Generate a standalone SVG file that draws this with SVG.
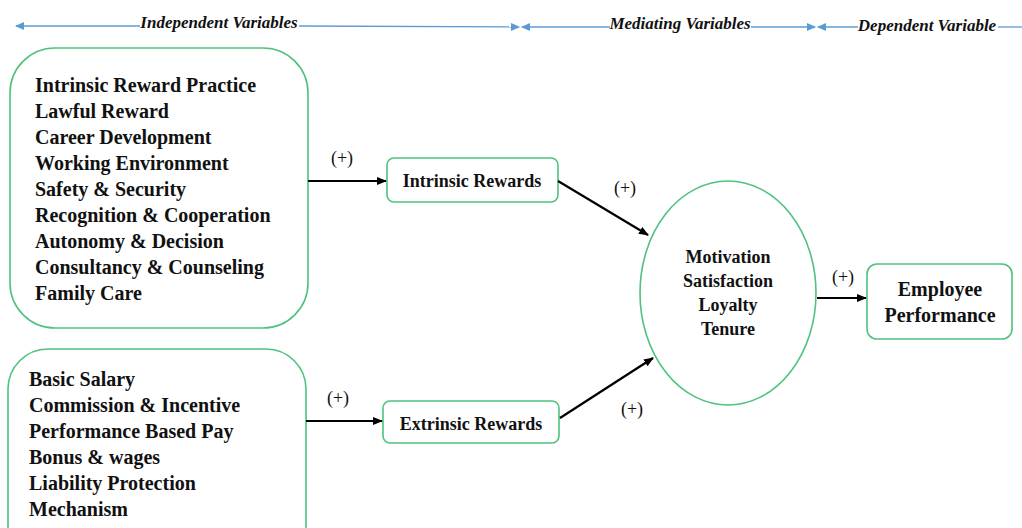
<svg xmlns="http://www.w3.org/2000/svg" width="1022" height="528" viewBox="0 0 1022 528">
<style>
.node{fill:#fff;stroke:#4fc27e;stroke-width:1.6}
.t{font-family:"Liberation Serif",serif;font-weight:bold;font-size:20px;fill:#111}
.tc{font-family:"Liberation Serif",serif;font-weight:bold;font-size:18px;fill:#111;text-anchor:middle}
.tl{font-size:20px}
.p{font-family:"Liberation Serif",serif;font-size:18px;fill:#111;text-anchor:middle}
.h{font-family:"Liberation Serif",serif;font-style:italic;font-weight:bold;font-size:17px;fill:#111;text-anchor:middle}
.blue{stroke:#5b9bd5;stroke-width:1.3;fill:none}
.conn{stroke:#000;stroke-width:2.2;fill:none;marker-end:url(#ah)}
</style>
<defs>
<marker id="ah" markerWidth="10" markerHeight="8" refX="9" refY="4" orient="auto" markerUnits="userSpaceOnUse"><path d="M0,0 L10,4 L0,8 Z" fill="#000"/></marker>
<marker id="bh" markerWidth="9" markerHeight="8" refX="8" refY="4" orient="auto-start-reverse" markerUnits="userSpaceOnUse"><path d="M0,0 L9,4 L0,8 Z" fill="#5b9bd5"/></marker>
</defs>
<rect width="1022" height="528" fill="#fff"/>
<g id="header">
<line class="blue" x1="16" y1="26" x2="140" y2="26" marker-start="url(#bh)"/>
<line class="blue" x1="299" y1="26" x2="519" y2="27" marker-end="url(#bh)"/>
<text class="h" x="219" y="28">Independent Variables</text>
<line class="blue" x1="522" y1="27" x2="610" y2="27" marker-start="url(#bh)"/>
<line class="blue" x1="751" y1="27" x2="815" y2="27" marker-end="url(#bh)"/>
<text class="h" x="680" y="29">Mediating Variables</text>
<line class="blue" x1="818" y1="27" x2="858" y2="27" marker-start="url(#bh)"/>
<line class="blue" x1="998" y1="27" x2="1022" y2="27"/>
<text class="h" x="927" y="31">Dependent Variable</text>
</g>
<g id="intrinsic-factors">
<rect class="node" x="10" y="48" width="298" height="280" rx="45"/>
<text class="t" x="35" y="92">Intrinsic Reward Practice</text>
<text class="t" x="35" y="118">Lawful Reward</text>
<text class="t" x="35" y="144">Career Development</text>
<text class="t" x="35" y="170">Working Environment</text>
<text class="t" x="35" y="196">Safety &amp; Security</text>
<text class="t" x="35" y="222">Recognition &amp; Cooperation</text>
<text class="t" x="35" y="248">Autonomy &amp; Decision</text>
<text class="t" x="35" y="274">Consultancy &amp; Counseling</text>
<text class="t" x="35" y="300">Family Care</text>
</g>
<g id="extrinsic-factors">
<rect class="node" x="8" y="349" width="298" height="220" rx="40"/>
<text class="t" x="29" y="386">Basic Salary</text>
<text class="t" x="29" y="412">Commission &amp; Incentive</text>
<text class="t" x="29" y="438">Performance Based Pay</text>
<text class="t" x="29" y="464">Bonus &amp; wages</text>
<text class="t" x="29" y="490">Liability Protection</text>
<text class="t" x="29" y="516">Mechanism</text>
</g>
<g id="intrinsic-rewards">
<rect class="node" x="387" y="158" width="171" height="44" rx="7"/>
<text class="tc" x="472" y="187">Intrinsic Rewards</text>
</g>
<g id="extrinsic-rewards">
<rect class="node" x="383" y="401" width="176" height="42" rx="7"/>
<text class="tc" x="471" y="430">Extrinsic Rewards</text>
</g>
<g id="mediators">
<ellipse class="node" cx="728" cy="293" rx="88" ry="112"/>
<text class="tc" x="728" y="263">Motivation</text>
<text class="tc" x="728" y="287">Satisfaction</text>
<text class="tc" x="728" y="311">Loyalty</text>
<text class="tc" x="728" y="335">Tenure</text>
</g>
<g id="employee-performance">
<rect class="node" x="867" y="264" width="145" height="75" rx="10"/>
<text class="tc tl" x="940" y="296">Employee</text>
<text class="tc tl" x="940" y="322">Performance</text>
</g>
<g id="connectors">
<line class="conn" x1="308" y1="181" x2="386" y2="181"/>
<text class="p" x="342" y="164">(+)</text>
<line class="conn" x1="558" y1="181" x2="648" y2="235"/>
<text class="p" x="625" y="194">(+)</text>
<line class="conn" x1="306" y1="421" x2="382" y2="421"/>
<text class="p" x="338" y="404">(+)</text>
<line class="conn" x1="560" y1="418" x2="653" y2="358"/>
<text class="p" x="632" y="415">(+)</text>
<line class="conn" x1="817" y1="298" x2="866" y2="298"/>
<text class="p" x="843" y="283">(+)</text>
</g>
</svg>
